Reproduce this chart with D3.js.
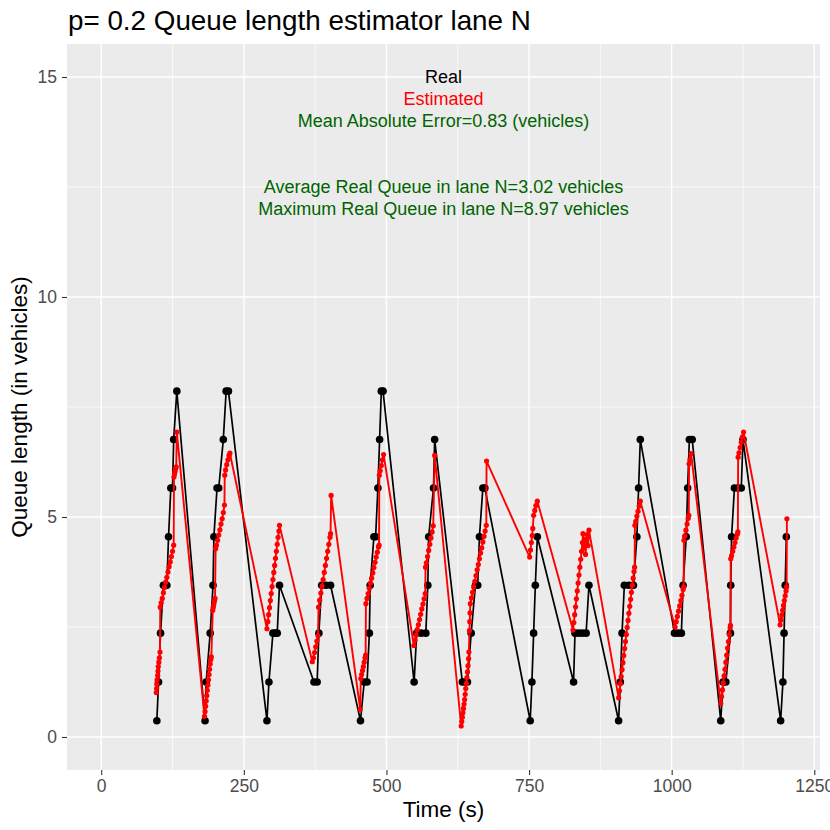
<!DOCTYPE html>
<html><head><meta charset="utf-8">
<script src="https://cdn.jsdelivr.net/npm/d3@7"></script>
<style>
body{margin:0;background:#fff}
text{font-family:"Liberation Sans", Arial, Helvetica, sans-serif}
</style>
</head><body>
<svg id="chart" width="830" height="830"></svg>
<script>
// ---------------- data ----------------
const chartTitle = "p= 0.2 Queue length estimator lane N";
const xLabel = "Time (s)";
const yLabel = "Queue length (in vehicles)";
const xTicks = [0, 250, 500, 750, 1000, 1250];
const yTicks = [0, 5, 10, 15];
const xLimits = [0, 1200];
const yLimits = [0, 15];

// Real queue [time, vehicles]
const realSeries = [
 [97.5,0.37],[100.5,1.25],[104,2.36],[109,3.45],[112,3.45],[115,3.45],[118,4.55],[122,5.66],[125,5.66],[127,6.76],[132.5,7.86],
 [182,0.37],[184,1.25],[191,2.36],[196,3.45],[197.5,4.55],[203,5.66],[206,5.66],[214,6.76],[219,7.86],[223,7.86],
 [290.5,0.37],[294,1.25],[301,2.36],[305,2.36],[308.5,2.36],[312.5,3.45],
 [373,1.25],[378.5,1.25],[381.5,2.36],[386.5,3.45],[394,3.45],[402,3.45],
 [454.5,0.37],[461,1.25],[466,1.25],[470,2.36],[471.5,3.45],[478,4.55],[481,4.55],[485,5.66],[488,6.76],[491,7.86],[494,7.86],
 [548.5,1.25],[553,2.36],[561,2.36],[569,2.36],[572.5,3.45],[574,4.55],[582.5,5.66],[584.5,6.76],
 [633,1.25],[637.5,1.25],[642,1.25],[648.5,2.36],[656,3.45],[660,3.45],[663,4.55],[669,5.66],[672.5,5.66],
 [752,0.37],[755,1.25],[758,2.36],[761,3.45],[764.5,4.55],
 [828,1.25],[830.5,2.36],[837,2.36],[843.5,2.36],[850,2.36],[855,3.45],
 [907,0.37],[910,1.25],[913,2.36],[917,3.45],[925,3.45],[933,3.45],[939,4.55],[942,5.66],[945,6.76],
 [1005,2.36],[1011,2.36],[1017,2.36],[1020,3.45],[1025.5,4.55],[1028,5.66],[1031,6.76],[1036,6.76],
 [1086,0.37],[1090,1.25],[1095,1.25],[1103,2.36],[1103.5,3.45],[1105,4.55],[1110,5.66],[1116,5.66],[1122,5.66],[1125,6.76],
 [1191,0.37],[1195,1.25],[1197,2.36],[1199,3.45],[1201,4.55]
];

// Estimated queue [time, vehicles]
const estSeries = [
 [96.5,1.01],[97,1.10],[97.5,1.20],[98,1.30],[99,1.40],[99.5,1.50],[100,1.60],[101,1.70],[102,1.80],[103,1.93],
 [103.5,2.95],[105,3.05],[107,3.15],[109,3.28],[111,3.40],[113,3.52],[115,3.63],[117,3.75],[119,3.87],[121,3.98],[123,4.10],[125,4.22],[127,4.36],
 [127.5,5.91],[128.5,5.98],[129.5,6.04],[130.5,6.10],[131.5,6.14],[132.5,6.93],
 [181,0.47],[182,0.58],[183,0.70],[184,0.82],[185,0.94],[186,1.06],[187,1.18],[188,1.30],[189,1.42],[190,1.54],[191,1.66],[192,1.76],[193,1.82],
 [195.5,2.88],[196.5,2.95],[197.5,3.02],[198.5,3.09],[199.5,3.15],
 [200.5,4.28],[202,4.36],[204,4.47],[206,4.59],[208,4.71],[210,4.84],[212,4.96],[214,5.10],[216,5.27],
 [216.5,5.95],[218,6.07],[220,6.19],[222,6.30],[224,6.40],[225.5,6.45],
 [290.5,2.46],[292,2.62],[293.5,2.78],[295,2.94],[296.5,3.10],[298,3.26],[299.5,3.42],[301,3.58],[302.5,3.74],[304,3.90],[305.5,4.06],[307,4.22],[308.5,4.38],[310,4.54],[311.5,4.68],[312.5,4.81],
 [370,1.71],[372,1.80],[374,1.92],[376,2.05],[378,2.18],[380,2.30],
 [381,2.95],[383,3.11],[385,3.27],[387,3.43],[389,3.58],[391,3.74],[393,3.90],[395,4.06],[397,4.22],[399,4.38],[401,4.54],[402,4.62],[403,5.49],
 [454,0.63],[455,1.33],[456.5,1.42],[458,1.51],[459.5,1.60],[461,1.70],[462.5,1.80],[463.5,1.86],
 [464,3.03],[466,3.15],[468,3.26],[470,3.38],[472,3.50],[474,3.61],[476,3.73],[478,3.85],[480,3.97],[482,4.09],[484,4.20],[486,4.32],[487,4.36],
 [487.5,5.95],[489,6.05],[491,6.17],[493,6.30],[495,6.42],
 [548,2.08],[550,2.20],[552,2.32],[554,2.44],[556,2.55],[558,2.67],[560,2.79],[562,2.91],[564,3.02],[566,3.14],[568,3.26],
 [568.5,3.86],[570,3.96],[572,4.10],[574,4.24],[576,4.38],[578,4.52],[580,4.66],[582,4.80],[584.5,6.40],
 [631,0.25],[632,0.35],[633,0.45],[634,0.55],[635,0.65],[636,0.75],[637,0.85],[638,0.97],[639,1.10],[640,1.22],[641,1.35],[642,1.48],[643,1.62],[644,1.78],[644.5,1.93],
 [645.5,2.42],[646,2.62],[646.5,2.82],[647,3.03],[649,3.16],[651,3.29],[653,3.41],[655,3.54],[657,3.67],[659,3.80],[661,3.92],[663,4.05],[665,4.18],[667,4.30],[669,4.43],[671,4.56],[673,4.68],[675,4.81],
 [675.5,6.27],
 [751,4.09],[752.5,4.25],[754,4.42],[755.5,4.58],[756.5,4.74],[758,5.04],[760,5.15],[762,5.26],[764.5,5.36],
 [827,2.43],[828.5,2.60],[830,2.78],[831.5,2.96],[833,3.14],[834.5,3.32],[836,3.50],[837.5,3.68],[839,3.86],[840.5,4.04],[842,4.22],[843.5,4.42],[844.5,4.62],
 [846,4.30],[847.5,4.50],[849,4.15],[850.5,4.40],[852,4.60],[853.5,4.35],[855,4.70],
 [907,0.89],[908.5,1.05],[910,1.21],[911.5,1.37],[913,1.53],[914.5,1.69],[916,1.85],[917.5,2.01],[919,2.17],[920.5,2.33],[922,2.49],[923.5,2.65],[925,2.81],[926.5,2.97],[928,3.13],[929.5,3.29],[931,3.45],[932.5,3.61],[934,3.76],[935,3.86],
 [935.5,4.81],[937,4.90],[939,5.02],[941,5.13],[943,5.25],[945,5.36],
 [1006,2.50],[1008,2.62],[1010,2.74],[1012,2.86],[1014,2.98],[1016,3.10],[1018,3.22],[1020,3.35],[1021,3.41],
 [1021.5,4.47],[1023,4.57],[1025,4.70],[1027,4.84],[1029,4.97],[1030,5.04],
 [1030.5,6.21],[1032,6.30],[1034,6.44],
 [1086,0.76],[1087.5,0.92],[1089,1.07],[1090.5,1.23],[1092,1.39],[1093.5,1.54],[1095,1.70],[1096.5,1.86],[1098,2.02],[1099.5,2.17],[1101,2.33],[1102.5,2.48],[1103,2.54],
 [1103.5,4.05],[1105,4.12],[1107,4.22],[1109,4.32],[1111,4.42],[1113,4.52],[1115,4.61],[1116,4.66],
 [1116.5,6.36],[1118,6.46],[1120,6.58],[1122,6.70],[1124,6.82],[1126,6.93],
 [1190,2.55],[1191.5,2.66],[1193,2.77],[1194.5,2.88],[1196,2.99],[1197.5,3.10],[1199,3.21],[1200.5,3.32],[1201.5,3.41],[1202,4.96]
];

// Text annotations (data coordinates)
const annoText = ["Real", "Estimated", "Mean Absolute Error=0.83 (vehicles)",
                  "Average Real Queue in lane N=3.02 vehicles", "Maximum Real Queue in lane N=8.97 vehicles"];
const annoX = [600, 600, 600, 600, 600];
const annoY = [15, 14.5, 14, 12.5, 12];
const annoKind = ["real", "est", "stat", "stat", "stat"];

// ---------------- styles / layout ----------------
const W = 830, H = 830;
const margin = {left: 67, right: 10, top: 44, bottom: 60};
const colors = {real: "#000000", est: "#FF0000", stat: "#006400"};

const svg = d3.select("#chart");
const pw = W - margin.left - margin.right, ph = H - margin.top - margin.bottom;

const xr = xLimits[1] - xLimits[0], yr = yLimits[1] - yLimits[0];
const x = d3.scaleLinear().domain([xLimits[0] - 0.05 * xr, xLimits[1] + 0.05 * xr]).range([margin.left, margin.left + pw]);
const y = d3.scaleLinear().domain([yLimits[0] - 0.05 * yr, yLimits[1] + 0.05 * yr]).range([margin.top + ph, margin.top]);

// panel
svg.append("rect").attr("x", margin.left).attr("y", margin.top).attr("width", pw).attr("height", ph).attr("fill", "#EBEBEB");

svg.append("clipPath").attr("id", "pclip").append("rect")
  .attr("x", margin.left).attr("y", margin.top).attr("width", pw).attr("height", ph);
const panel = svg.append("g").attr("clip-path", "url(#pclip)");

// minor grid
const xMinor = xTicks.slice(0, -1).map((d, i) => (d + xTicks[i + 1]) / 2);
const yMinor = yTicks.slice(0, -1).map((d, i) => (d + yTicks[i + 1]) / 2);
panel.selectAll(".xminor").data(xMinor).enter().append("line")
  .attr("x1", d => x(d)).attr("x2", d => x(d)).attr("y1", margin.top).attr("y2", margin.top + ph)
  .attr("stroke", "#fff").attr("stroke-width", 0.7);
panel.selectAll(".yminor").data(yMinor).enter().append("line")
  .attr("y1", d => y(d)).attr("y2", d => y(d)).attr("x1", margin.left).attr("x2", margin.left + pw)
  .attr("stroke", "#fff").attr("stroke-width", 0.7);
// major grid
panel.selectAll(".xmajor").data(xTicks).enter().append("line")
  .attr("x1", d => x(d)).attr("x2", d => x(d)).attr("y1", margin.top).attr("y2", margin.top + ph)
  .attr("stroke", "#fff").attr("stroke-width", 1.4);
panel.selectAll(".ymajor").data(yTicks).enter().append("line")
  .attr("y1", d => y(d)).attr("y2", d => y(d)).attr("x1", margin.left).attr("x2", margin.left + pw)
  .attr("stroke", "#fff").attr("stroke-width", 1.4);

// series
const line = d3.line().x(d => x(d[0])).y(d => y(d[1]));
const realSorted = realSeries.slice().sort((a, b) => a[0] - b[0]);
const estSorted = estSeries.slice().sort((a, b) => a[0] - b[0]);

panel.append("path").datum(realSorted).attr("d", line).attr("fill", "none")
  .attr("stroke", colors.real).attr("stroke-width", 1.7).attr("stroke-linejoin", "round");
panel.selectAll(".rp").data(realSorted).enter().append("circle")
  .attr("cx", d => x(d[0])).attr("cy", d => y(d[1])).attr("r", 3.8).attr("fill", colors.real);

panel.append("path").datum(estSorted).attr("d", line).attr("fill", "none")
  .attr("stroke", colors.est).attr("stroke-width", 1.9).attr("stroke-linejoin", "round");
panel.selectAll(".ep").data(estSorted).enter().append("circle")
  .attr("cx", d => x(d[0])).attr("cy", d => y(d[1])).attr("r", 2.6).attr("fill", colors.est);

// annotations
panel.selectAll(".anno").data(annoText).enter().append("text")
  .attr("x", (d, i) => x(annoX[i])).attr("y", (d, i) => y(annoY[i])).attr("dy", "0.36em")
  .attr("text-anchor", "middle").attr("font-size", 18)
  .attr("fill", (d, i) => colors[annoKind[i]]).text(d => d);

// axes
const xAxis = svg.append("g").attr("transform", `translate(0,${margin.top + ph})`)
  .call(d3.axisBottom(x).tickValues(xTicks).tickSize(5).tickPadding(4.5).tickFormat(d3.format("d")));
const yAxis = svg.append("g").attr("transform", `translate(${margin.left},0)`)
  .call(d3.axisLeft(y).tickValues(yTicks).tickSize(5).tickPadding(5).tickFormat(d3.format("d")));
[xAxis, yAxis].forEach(a => {
  a.select(".domain").remove();
  a.selectAll(".tick line").attr("stroke", "#333333").attr("stroke-width", 1.1);
  a.selectAll(".tick text").attr("fill", "#4D4D4D").attr("font-size", 17.5)
   .attr("font-family", "'Liberation Sans', Arial, sans-serif");
});

// titles
svg.append("text").attr("x", 68).attr("y", 30).attr("font-size", 27.8).attr("fill", "#000").text(chartTitle);
svg.append("text").attr("x", margin.left + pw / 2).attr("y", 817).attr("text-anchor", "middle")
  .attr("font-size", 22.5).attr("fill", "#000").text(xLabel);
svg.append("text").attr("transform", `translate(27,${margin.top + ph / 2}) rotate(-90)`)
  .attr("text-anchor", "middle").attr("font-size", 22.5).attr("fill", "#000").text(yLabel);
</script>
</body></html>
